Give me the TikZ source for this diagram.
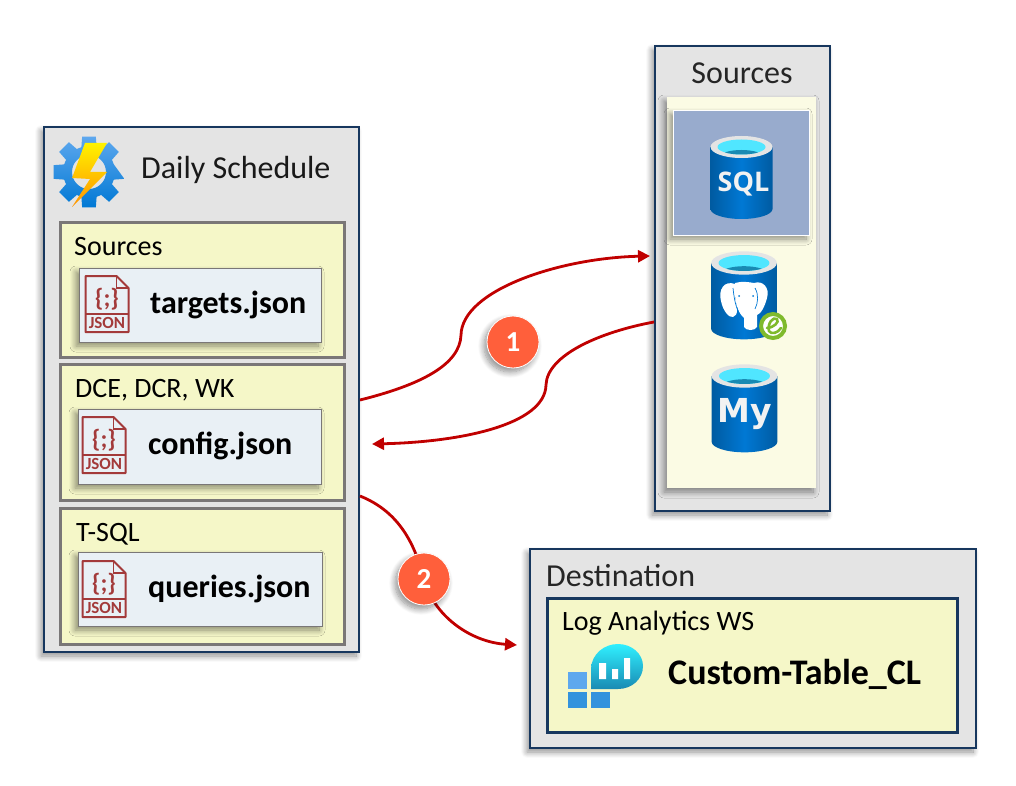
\documentclass[tikz,border=0pt]{standalone}
\usepackage{fontspec}
\setmainfont{Carlito}
\newfontfamily\iconfont{Open Sans}
\newfontfamily\myfont{DejaVu Sans}
\usetikzlibrary{arrows.meta,shadows.blur}
\definecolor{navyline}{HTML}{17375E}
\definecolor{panelgray}{HTML}{E4E4E4}
\definecolor{boxyellow}{HTML}{F5F7C8}
\definecolor{paleyellow}{HTML}{FBFBE4}
\definecolor{filefill}{HTML}{E9F0F5}
\definecolor{boxgray}{HTML}{7A7777}
\definecolor{sqlfill}{HTML}{98ABCD}
\definecolor{flowred}{HTML}{C00000}
\definecolor{badgered}{HTML}{FF5F3B}
\definecolor{jsonred}{HTML}{A33A3A}
\definecolor{dbdark}{HTML}{005BA1}
\definecolor{dbblue}{HTML}{0078D4}
\definecolor{dbcyan}{HTML}{50E6FF}
\definecolor{dbteal}{HTML}{198AB3}
\definecolor{gearlight}{HTML}{5EA8EE}
\definecolor{epasgreen}{HTML}{7FBA2C}
\begin{document}
\begin{tikzpicture}[
  x=1pt, y=-1pt,
  softshadow/.style={blur shadow={shadow xshift=-3pt, shadow yshift=-4pt, shadow blur steps=10, shadow blur radius=6pt, shadow opacity=45}},
  panel/.style={rectangle, draw=navyline, line width=2pt, fill=panelgray, inner sep=0pt, softshadow},
  yellowbox/.style={rectangle, draw=boxgray, line width=3pt, fill=boxyellow, inner sep=0pt},
  filebox/.style={rectangle, draw=boxgray, line width=1pt, fill=filefill, inner sep=0pt, softshadow},
  label/.style={anchor=base west, inner sep=0pt, font=\fontsize{28}{30}\selectfont},
  title/.style={anchor=base west, inner sep=0pt, font=\fontsize{32}{34}\selectfont, text=black!85},
  filename/.style={anchor=base west, inner sep=0pt, font=\fontsize{32}{34}\selectfont\bfseries},
  badge/.style={circle, draw=white, line width=0.8pt, fill=badgered, minimum size=52pt, inner sep=0pt, text=white, font=\fontsize{29}{31}\selectfont\bfseries, softshadow},
  arrow/.style={line width=2.8pt, flowred, -{Triangle[length=12pt,width=12pt]}},
  dbtext/.style={inner sep=0pt, text=white!95!black},
  pics/jsonicon/.style={code={
    \draw[jsonred, line width=2pt, line join=round] (0,0) -- (31,0) -- (43,12) -- (43,56) -- (0,56) -- cycle;
    \draw[jsonred, line width=1.6pt] (31,0) -- (31,12) -- (43,12);
    \draw[jsonred, line width=2pt] (0,38) -- (43,38);
    \node[inner sep=0pt, text=jsonred, font=\fontsize{25}{25}\selectfont\bfseries] (-braces) at (21.5,23) {\{;\}};
    \node[inner sep=0pt, text=jsonred, font=\fontsize{17}{17}\selectfont\bfseries] (-word) at (21.5,47) {JSON};
  }},
  pics/dbcyl/.style={code={
    \shade[left color=dbdark, right color=dbdark, middle color=dbblue] (-31,0) -- (-31,62) arc[start angle=180, end angle=360, x radius=31, y radius=-10] -- (31,0) -- cycle;
    \fill[panelgray] (0,0) ellipse[x radius=31, y radius=11];
    \fill[dbcyan] (0,0) ellipse[x radius=24, y radius=7.5];
    \begin{scope}
      \clip (0,0) ellipse[x radius=24, y radius=7.5];
      \fill[dbteal] (0,10) ellipse[x radius=22, y radius=7];
    \end{scope}
  }}
]
\useasboundingbox (0,0) rectangle (1016,786);

% left panel
\node[panel, minimum width=315pt, minimum height=525pt] (daily) at (201.5,389.5) {};
\node[yellowbox, minimum width=284pt, minimum height=134pt] (srcbox) at (202,290) {};
\node[yellowbox, minimum width=284pt, minimum height=136pt] (cfgbox) at (202,432) {};
\node[yellowbox, minimum width=284pt, minimum height=136pt] (sqlbox) at (202,576) {};
\node[filebox, minimum width=242pt, minimum height=74pt] (targets) at (200,305) {};
\node[filebox, minimum width=243pt, minimum height=75pt] (config) at (199.5,446.5) {};
\node[filebox, minimum width=244pt, minimum height=74pt] (queries) at (200,589) {};

% gear and bolt
\begin{scope}[shift={(89,172)}]
\shade[top color=gearlight, bottom color=dbblue, even odd rule]
  (11:36) \foreach \a in {0,45,...,315} {
    -- (\a-11:36) -- (\a+11:36) -- (\a+17:26) -- (\a+28:26)
  } -- cycle (0,0) circle[radius=17];
\end{scope}
\shade[top color=yellow!90!orange, bottom color=orange!85!yellow]
  (107,143) -- (85,143) -- (72,178) -- (90,179) -- (72,207) -- (107,172) -- (90,172) -- cycle;

\node[title, text=black!90] (dailytxt) at (141,179) {Daily Schedule};
\node[label] (srctxt) at (74,255) {Sources};
\node[label] (cfgtxt) at (75,397) {DCE, DCR, WK};
\node[label] (sqltxt) at (76,541) {T-SQL};
\node[filename] (targetstxt) at (150,313) {targets.json};
\node[filename] (configtxt) at (148,454) {config.json};
\node[filename] (queriestxt) at (148,597) {queries.json};
\pic (jsona) at (85.5,276) {jsonicon};
\pic (jsonb) at (82.5,417) {jsonicon};
\pic (jsonc) at (82.5,561) {jsonicon};

% right panel
\node[panel, minimum width=175pt, minimum height=465pt] (sources) at (742.5,278.5) {};
\node[rectangle, fill=paleyellow, minimum width=149pt, minimum height=391pt, inner sep=0pt, softshadow] (srcarea) at (741.5,292.5) {};
\node[rectangle, draw=white, line width=0.8pt, fill=sqlfill, minimum width=136pt, minimum height=125pt, inner sep=0pt, softshadow] (sqlarea) at (741,172.5) {};
\node[title, anchor=base, font=\fontsize{32}{34}\selectfont] (sourcestxt) at (742,84) {Sources};

\pic (dbsql) at (741.5,147) {dbcyl};
\pic[scale=1.06] (dbpg) at (744,263) {dbcyl};
\pic[scale=1.06] (dbmy) at (744.5,376) {dbcyl};
\node[dbtext, font=\fontsize{27}{27}\iconfont\bfseries] (sqltext) at (743.5,184) {SQL};
\node[dbtext, font=\fontsize{33}{33}\myfont\bfseries] (mytext) at (745,414) {My};

% elephant
\fill[white] (735,284) .. controls (724,280) and (718,290) .. (721,301) .. controls (723,311) and (729,318) .. (733,317) .. controls (739,316) and (737,305) .. (735,297) -- cycle;
\fill[white] (735,283) .. controls (742,281) and (748,282) .. (754,283) .. controls (763,280) and (770,288) .. (767,298) .. controls (765,306) and (761,314) .. (757,315) -- (757,327) .. controls (755,331) and (746,331) .. (744,327) -- (744,318) .. controls (736,312) and (734,295) .. (735,283) -- cycle;
\draw[dbblue, line width=0.7pt] (733,288) .. controls (734,298) and (736,310) .. (741,316);
\draw[dbblue, line width=0.7pt] (755,288) .. controls (759,295) and (758,303) .. (755,309);
\fill[dbblue] (739,296) circle[radius=1] (753,296) circle[radius=1];

% postgres badge
\fill[white] (773,326) circle[radius=12];
\draw[epasgreen, line width=4pt] (773,326) circle[radius=12];
\draw[epasgreen, line width=2.6pt, line cap=round] (767,328) .. controls (773,328) and (780,322) .. (777,319) .. controls (773,316) and (767,324) .. (769,331) .. controls (771,335) and (778,333) .. (781,328);

% destination panel
\node[panel, minimum width=446pt, minimum height=199pt] (dest) at (753,648.5) {};
\node[rectangle, draw=navyline, line width=3pt, fill=boxyellow, minimum width=410pt, minimum height=134pt, inner sep=0pt] (lawbox) at (752,665) {};
\node[title, font=\fontsize{32}{34}\selectfont] (desttxt) at (546,586) {Destination};
\node[label] (lawtxt) at (562,630) {Log Analytics WS};
\node[filename, font=\fontsize{36}{38}\selectfont\bfseries] (tabletxt) at (668,684) {Custom-Table\_CL};

% workspace icon
\fill[gearlight] (568,672) rectangle (587,689);
\fill[dbblue!80!white] (568,692) rectangle (587,708);
\fill[dbblue!80!white] (591,692) rectangle (610,708);
\shade[top color=dbcyan!60!cyan, bottom color=dbteal]
  (591,689) -- (591,668) .. controls (592,654) and (604,644) .. (618,644) .. controls (632,644) and (643,654) .. (643,666) .. controls (643,679) and (632,689) .. (618,689) -- cycle;
\fill[white] (599,663) rectangle (606,679) (612,669) rectangle (618,679) (624,658) rectangle (630,679);

% connectors
\coordinate (cfgout) at (360,400);
\coordinate (srcin) at (650,256);
\coordinate (srcout) at (654,322);
\coordinate (cfgin) at (372,444);
\coordinate (lawout) at (360,496);
\coordinate (lawin) at (517,645);
\draw[arrow] (cfgout) .. controls (420,385) and (460,365) .. (461,335) .. controls (462,290) and (560,258) .. (srcin);
\draw[arrow] (srcout) .. controls (600,332) and (547,355) .. (546,385) .. controls (545,425) and (460,442) .. (cfgin);
\draw[arrow] (lawout) .. controls (400,512) and (415,545) .. (424,579) .. controls (433,615) and (470,642) .. (lawin);
\node[badge] (stepone) at (513,342) {1};
\node[badge] (steptwo) at (424,579) {2};
\end{tikzpicture}
\end{document}
